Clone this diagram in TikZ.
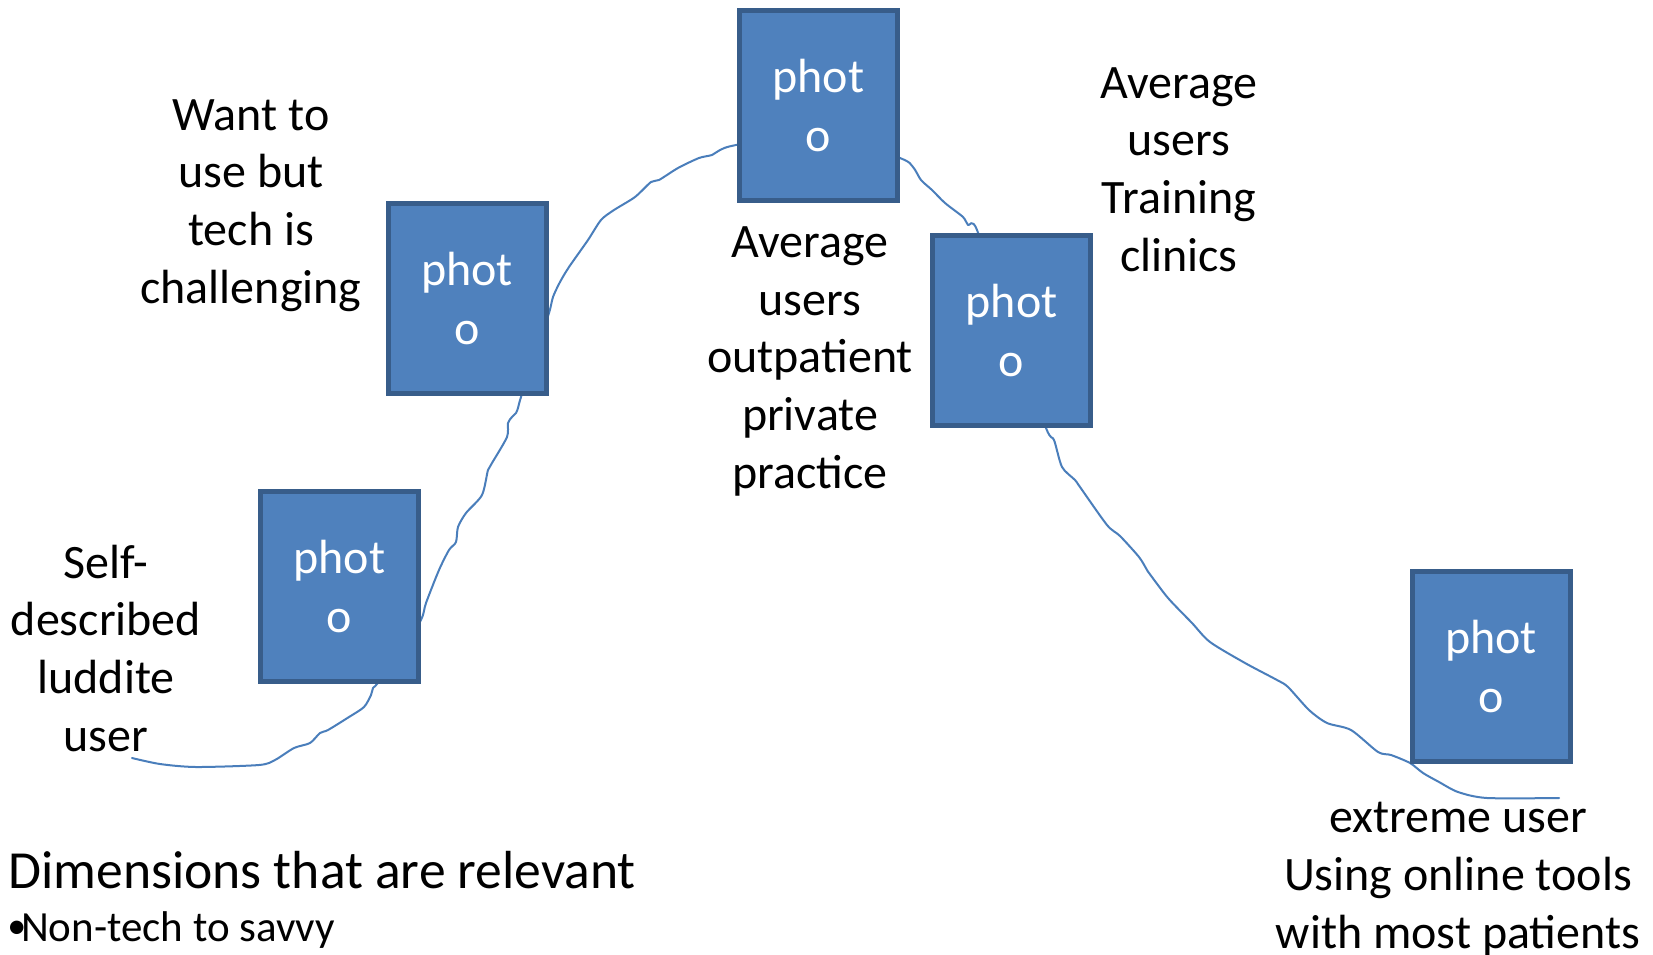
\documentclass[tikz,border=0pt]{standalone}
\usepackage{fontspec}
\setmainfont{Carlito}
\definecolor{boxfill}{HTML}{4F81BD}
\definecolor{boxedge}{HTML}{385D8A}
\definecolor{trailblue}{HTML}{4A7EBB}
\begin{document}
\begin{tikzpicture}[x=0.5pt,y=-0.5pt,
  photo/.style={draw=boxedge, fill=boxfill, line width=2.5pt,
    minimum width=79pt, minimum height=95pt, inner sep=0pt,
    text=white, align=center, font=\fontsize{24}{29.5}\selectfont},
  % anchored on the baseline of the last line
  caption/.style={align=center, inner sep=0pt, anchor=base,
    font=\fontsize{24}{28.8}\selectfont},
  trail/.style={draw=trailblue, line width=1pt, line join=round, line cap=round}]
\useasboundingbox (0,0) rectangle (1653,954);

% hand-drawn adoption curve, running behind the photo boxes
\coordinate (cstart) at (132,758);
\coordinate (cend) at (1559,798);
\draw[trail] plot[smooth, tension=0.45] coordinates {
  (cstart) (160,764) (196,767) (259,765) (275,760) (294,748) (310,743)
  (320,733) (328,730) (349,717) (364,707) (371,695) (373,688) (377,684)
  (400,655) (421,620) (426,603) (439,570) (449,550) (456,542) (458,527)
  (466,513) (482,495) (488,470) (492,463) (507,437) (508,423) (512,417)
  (516,413) (518,408) (521,397) (535,355) (549,313) (553,297) (560,282)
  (569,267) (588,240) (601,220) (614,210) (635,197) (651,182) (659,180)
  (678,168) (699,158) (712,155) (720,150) (736,145) (820,130) (900,158)
  (913,167) (921,180) (932,190) (945,203) (963,217) (968,225) (977,230)
  (1010,330) (1046,428) (1054,440) (1062,467) (1075,480) (1080,487)
  (1107,525) (1120,536) (1139,557) (1147,570) (1149,573) (1168,598)
  (1192,623) (1210,642) (1245,663) (1277,680) (1288,687) (1309,710)
  (1327,723) (1351,730) (1378,752) (1391,755) (1410,763) (1423,773)
  (1439,782) (1458,792) (1487,798) (cend)};

% photo placeholders along the curve
\node[photo] (p1) at (339.5,586) {phot\\o};
\node[photo] (p2) at (467,298) {phot\\o};
\node[photo] (p3) at (818.5,105.5) {phot\\o};
\node[photo] (p4) at (1011.5,330) {phot\\o};
\node[photo] (p5) at (1491,666) {phot\\o};

% user descriptions
\node[caption] (t1) at (106,751) {Self-\\described\\luddite\\user};
\node[caption] (t2) at (251,303) {Want to\\use but\\tech is\\challenging};
\node[caption] (t3) at (810,488) {Average\\users\\outpatient\\private\\practice};
\node[caption] (t4) at (1179,271) {Average\\users\\Training\\clinics};
\node[caption] (t5) at (1458,948) {extreme user\\Using online tools\\with most patients};

% dimensions note
\node[anchor=base west, inner sep=0pt, font=\fontsize{26.8}{32}\selectfont]
  (dims) at (8,888) {Dimensions that are relevant};
\node[anchor=base west, inner sep=0pt, font=\fontsize{21.5}{26}\selectfont]
  (dim1) at (7,941) {\makebox[6.8pt][l]{\fontsize{19}{22}\selectfont\raisebox{1.5pt}{•}}Non-tech to savvy};
\end{tikzpicture}
\end{document}
